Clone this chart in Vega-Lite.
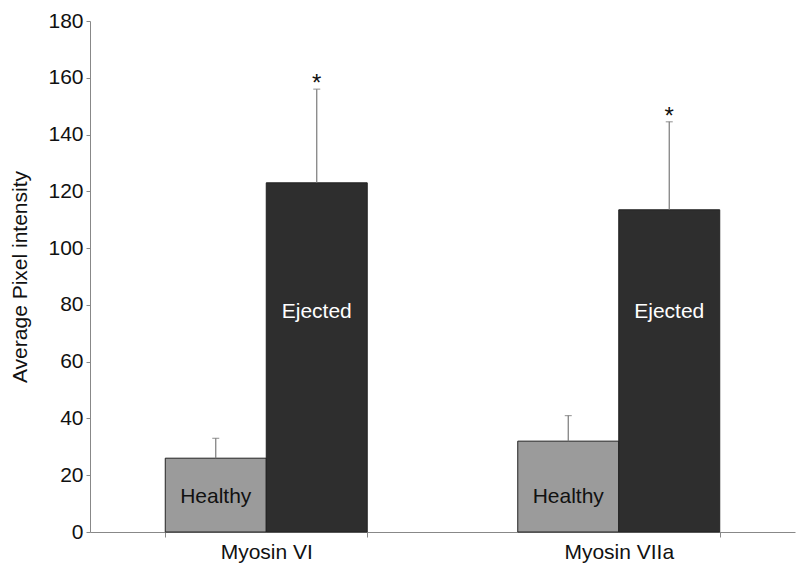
{
  "$schema": "https://vega.github.io/schema/vega-lite/v6.json",
  "width": 705,
  "height": 511,
  "autosize": {"type": "none"},
  "padding": {"left": 90, "top": 21, "right": 5, "bottom": 37},
  "background": "white",
  "config": {"view": {"stroke": null}, "font": "Liberation Sans"},
  "data": {"values": [
    {"protein": "Myosin VI", "group": "Healthy", "mean": 26, "upper": 33, "sig": ""},
    {"protein": "Myosin VI", "group": "Ejected", "mean": 123, "upper": 156, "sig": "*"},
    {"protein": "Myosin VIIa", "group": "Healthy", "mean": 32, "upper": 41, "sig": ""},
    {"protein": "Myosin VIIa", "group": "Ejected", "mean": 113.5, "upper": 144.5, "sig": "*"}
  ]},
  "encoding": {
    "x": {
      "field": "protein", "type": "nominal", "sort": ["Myosin VI", "Myosin VIIa"],
      "scale": {"paddingInner": 0.427, "paddingOuter": 0.2135},
      "axis": {
        "title": null, "labelAngle": 0, "tickBand": "extent", "tickSize": 5,
        "domainColor": "#888", "tickColor": "#888", "labelFontSize": 21,
        "labelColor": "#111", "labelPadding": 4
      }
    },
    "xOffset": {
      "field": "group", "type": "nominal", "sort": ["Healthy", "Ejected"],
      "scale": {"paddingInner": 0, "paddingOuter": 0}
    }
  },
  "layer": [
    {
      "mark": {"type": "bar", "stroke": "#222", "strokeWidth": 1},
      "encoding": {
        "y": {
          "field": "mean", "type": "quantitative",
          "scale": {"domain": [0, 180], "nice": false},
          "axis": {
            "title": "Average Pixel intensity", "values": [0, 20, 40, 60, 80, 100, 120, 140, 160, 180],
            "grid": false, "tickSize": 4, "domainColor": "#888", "tickColor": "#888",
            "labelFontSize": 21, "labelColor": "#111", "labelPadding": 3,
            "titleFontSize": 21, "titleFontWeight": "normal", "titleColor": "#111", "titlePadding": 17
          }
        },
        "fill": {
          "field": "group", "type": "nominal",
          "scale": {"domain": ["Healthy", "Ejected"], "range": ["#9b9b9b", "#2e2e2e"]},
          "legend": null
        }
      }
    },
    {
      "mark": {"type": "rule", "color": "#7a7a7a", "strokeWidth": 1.2},
      "encoding": {
        "y": {"field": "mean", "type": "quantitative"},
        "y2": {"field": "upper"}
      }
    },
    {
      "mark": {"type": "tick", "color": "#7a7a7a", "size": 7, "thickness": 1.2},
      "encoding": {
        "y": {"field": "upper", "type": "quantitative"}
      }
    },
    {
      "mark": {"type": "text", "fontSize": 24, "baseline": "alphabetic", "dy": 2, "color": "#111"},
      "encoding": {
        "y": {"field": "upper", "type": "quantitative"},
        "text": {"field": "sig"}
      }
    },
    {
      "transform": [{"calculate": "datum.group === 'Healthy' ? 12.5 : 77.5", "as": "labelY"}],
      "mark": {"type": "text", "fontSize": 21, "baseline": "middle"},
      "encoding": {
        "y": {"field": "labelY", "type": "quantitative"},
        "text": {"field": "group"},
        "color": {
          "field": "group", "type": "nominal",
          "scale": {"domain": ["Healthy", "Ejected"], "range": ["#111111", "#ffffff"]},
          "legend": null
        }
      }
    }
  ]
}
